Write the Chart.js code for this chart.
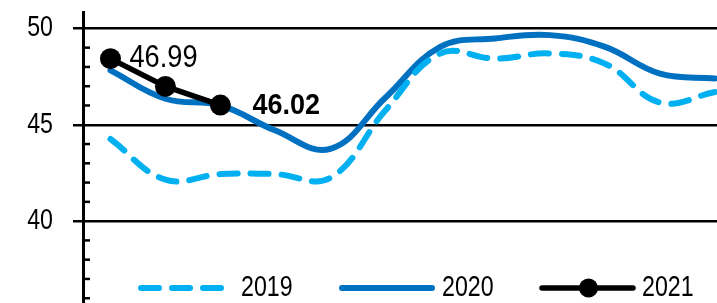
<!DOCTYPE html>
<html>
<head>
<meta charset="utf-8">
<script src="https://cdn.jsdelivr.net/npm/chart.js@4"></script>
<style>
  html, body { margin: 0; padding: 0; background: #fff; overflow: hidden; }
  #wrap { width: 717px; height: 303px; overflow: hidden; }
</style>
</head>
<body>
<div id="wrap"><canvas id="myChart" width="753" height="328"></canvas></div>
<script>
const months = ["Jan", "Feb", "Mar", "Apr", "May", "Jun", "Jul", "Aug", "Sep", "Oct", "Nov", "Dec"];
const values2019 = [44.26, 42.15, 42.44, 42.44, 42.25, 45.74, 48.7, 48.43, 48.7, 48.17, 46.15, 46.7];
const values2020 = [47.82, 46.35, 46.0, 44.7, 43.75, 46.4, 49.04, 49.48, 49.65, 49.04, 47.65, 47.4];
const values2021 = [48.43, 46.99, 46.02];
const majorTicks = [35, 40, 45, 50];
const labelled2021 = [1, 2]; // points with a value label

const FONT = "'Liberation Sans', Arial, sans-serif";

// text squeezed sideways, the source font is a narrow one
function drawText(ctx, text, x, y, font, sx, align) {
  ctx.save();
  ctx.font = font;
  ctx.textBaseline = "middle";
  ctx.textAlign = align || "left";
  ctx.translate(x, y);
  ctx.scale(sx, 1);
  ctx.fillStyle = "#000";
  ctx.fillText(text, 0, 0);
  ctx.restore();
}

// y labels and minor tick marks inside the axis
const yAxisExtras = {
  id: "yAxisExtras",
  afterDraw(chart) {
    const ctx = chart.ctx;
    const y = chart.scales.y;
    const left = chart.chartArea.left;
    ctx.save();
    ctx.strokeStyle = "#000";
    ctx.lineWidth = 2.5;
    for (let v = Math.ceil(y.min); v <= y.max; v++) {
      if (v % 5 === 0) continue;
      const py = y.getPixelForValue(v);
      ctx.beginPath();
      ctx.moveTo(left, py);
      ctx.lineTo(left + 7, py);
      ctx.stroke();
    }
    ctx.restore();
    majorTicks.forEach((v) => {
      const py = y.getPixelForValue(v);
      if (py > chart.chartArea.bottom - 5) return;
      drawText(ctx, String(v), left - 30, py, "29px " + FONT, 0.8, "right");
    });
  },
};

// value labels for 2021
const pointLabels = {
  id: "pointLabels",
  afterDatasetsDraw(chart) {
    const ctx = chart.ctx;
    const meta = chart.getDatasetMeta(2);
    const p1 = meta.data[labelled2021[0]];
    drawText(ctx, values2021[labelled2021[0]].toFixed(2), p1.x - 36, p1.y - 28, "32px " + FONT, 0.85);
    const p2 = meta.data[labelled2021[1]];
    drawText(ctx, values2021[labelled2021[1]].toFixed(2), p2.x + 32, p2.y + 1, "bold 30px " + FONT, 0.9);
  },
};

// legend inside the plot, near the bottom
const innerLegend = {
  id: "innerLegend",
  afterDraw(chart) {
    const ctx = chart.ctx;
    const ly = 288;
    const items = [
      { ds: 0, x1: 141, x2: 224, tx: 241 },
      { ds: 1, x1: 342, x2: 432, tx: 442 },
      { ds: 2, x1: 542, x2: 633, tx: 642 },
    ];
    items.forEach((it) => {
      const ds = chart.data.datasets[it.ds];
      ctx.save();
      ctx.strokeStyle = ds.borderColor;
      ctx.lineWidth = ds.borderWidth;
      ctx.lineCap = "round";
      ctx.setLineDash(ds.borderDash || []);
      ctx.beginPath();
      ctx.moveTo(it.x1, ly);
      ctx.lineTo(it.x2, ly);
      ctx.stroke();
      ctx.setLineDash([]);
      if (ds.pointRadius) {
        ctx.fillStyle = ds.pointBackgroundColor;
        ctx.beginPath();
        ctx.arc((it.x1 + it.x2) / 2 + 1, ly, 9.5, 0, Math.PI * 2);
        ctx.fill();
      }
      ctx.restore();
      drawText(ctx, ds.label, it.tx, ly, "29px " + FONT, 0.8);
    });
  },
};

new Chart(document.getElementById("myChart"), {
  type: "line",
  data: {
    labels: months,
    datasets: [
      {
        label: "2019",
        data: values2019,
        borderColor: "#00B0F0",
        borderWidth: 6,
        borderDash: [18, 13],
        borderCapStyle: "round",
        pointRadius: 0,
        tension: 0.4,
        order: 1,
      },
      {
        label: "2020",
        data: values2020,
        borderColor: "#0070C0",
        borderWidth: 6,
        borderCapStyle: "round",
        pointRadius: 0,
        tension: 0.4,
        order: 2,
      },
      {
        label: "2021",
        data: values2021,
        borderColor: "#000000",
        borderWidth: 5.5,
        pointRadius: 10.5,
        pointBackgroundColor: "#000000",
        pointBorderWidth: 0,
        tension: 0,
        order: 0,
      },
    ],
  },
  options: {
    responsive: false,
    animation: false,
    events: [],
    layout: { padding: { top: 12, left: 0, right: 0, bottom: 0 } },
    plugins: {
      legend: { display: false },
      tooltip: { enabled: false },
    },
    scales: {
      x: {
        display: false,
        offset: true,
      },
      y: {
        min: 35,
        max: 50.85,
        afterBuildTicks: (scale) => {
          scale.ticks = majorTicks.map((v) => ({ value: v }));
        },
        afterFit: (scale) => {
          scale.width = 83;
        },
        border: { display: true, color: "#000", width: 3 },
        grid: {
          color: "#000",
          lineWidth: 2.5,
          tickLength: 10,
          drawTicks: true,
        },
        ticks: { display: false },
      },
    },
  },
  plugins: [yAxisExtras, pointLabels, innerLegend],
});
</script>
</body>
</html>
